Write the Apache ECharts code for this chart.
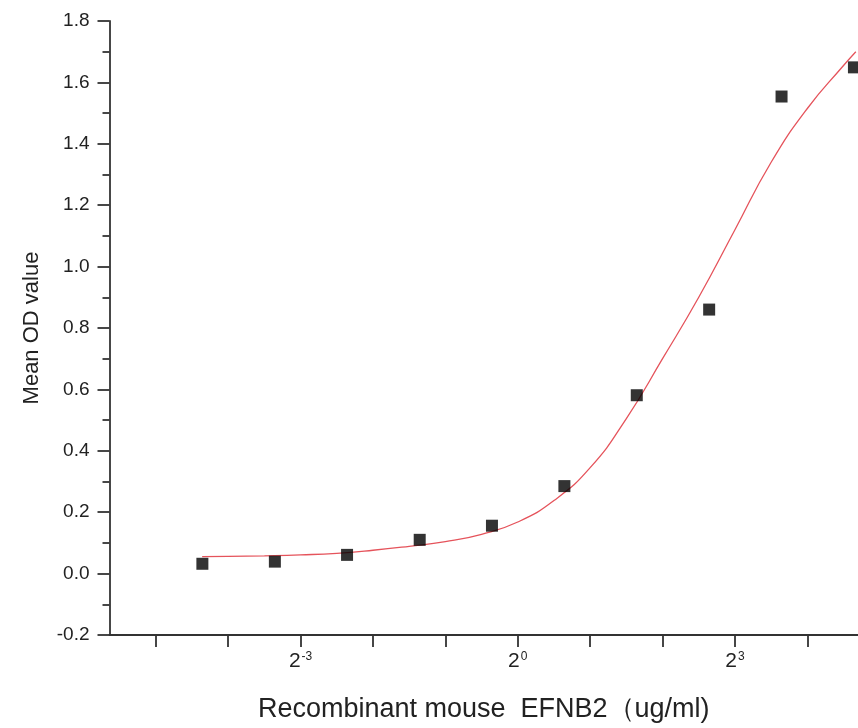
<!DOCTYPE html>
<html>
<head>
<meta charset="utf-8">
<script src="https://cdn.jsdelivr.net/npm/echarts@6/dist/echarts.min.js"></script>
<style>
html,body{margin:0;padding:0;background:#fff;}
#chart{width:858px;height:728px;}
</style>
</head>
<body>
<div id="chart"></div>
<script>
// Measured points: concentration (ug/ml) and mean OD
var concentrations = [0.0488, 0.0977, 0.195, 0.391, 0.781, 1.5625, 3.125, 6.25, 12.5, 25];
var meanOD = [0.032, 0.039, 0.061, 0.110, 0.156, 0.285, 0.581, 0.860, 1.554, 1.649];

// Fitted curve at steps of log2(concentration)
var curveLog2Conc = [-4.36, -4.0, -3.5, -3.0, -2.5, -2.0, -1.5, -1.0, -0.5, 0.0, 0.5, 1.0, 1.5, 2.0, 2.5, 3.0, 3.5, 4.0, 4.5, 4.67];
var curveOD = [0.055, 0.056, 0.058, 0.061, 0.066, 0.076, 0.089, 0.104, 0.128, 0.168, 0.238, 0.345, 0.505, 0.700, 0.900, 1.120, 1.340, 1.515, 1.655, 1.700];

// Axis ticks (powers of two)
var xTickExponents = [-5, -4, -3, -2, -1, 0, 1, 2, 3, 4];
var xLabelExponents = [-3, 0, 3];

var font = "'Liberation Sans', Arial, sans-serif";
var axisColor = '#333';

var pointData = concentrations.map(function (c, i) { return [Math.log2(c), meanOD[i]]; });
var curveData = curveLog2Conc.map(function (x, i) { return [x, curveOD[i]]; });

var chart = echarts.init(document.getElementById('chart'), null, {renderer: 'canvas'});
chart.setOption({
  animation: false,
  backgroundColor: '#fff',
  grid: {left: 109.5, right: 0, top: 21, bottom: 92, containLabel: false},
  xAxis: {
    type: 'value',
    min: -5.64,
    max: 4.70,
    name: 'Recombinant mouse  EFNB2（ug/ml)',
    nameLocation: 'middle',
    nameGap: 61,
    nameTextStyle: {fontFamily: font, fontSize: 27, color: '#222'},
    axisLine: {show: true, onZero: false, lineStyle: {color: axisColor, width: 1.8}},
    axisTick: {show: true, customValues: xTickExponents, length: 12, lineStyle: {color: axisColor, width: 1.8}},
    axisLabel: {
      customValues: xLabelExponents,
      margin: 16,
      formatter: function (v) { return '{b|2}{s|' + v + '}'; },
      rich: {
        b: {fontFamily: font, fontSize: 21, color: '#222'},
        s: {fontFamily: font, fontSize: 12, color: '#222', verticalAlign: 'top', padding: [0, 0, 0, 1]}
      }
    },
    splitLine: {show: false}
  },
  yAxis: {
    type: 'value',
    min: -0.2,
    max: 1.8,
    interval: 0.2,
    name: 'Mean OD value',
    nameLocation: 'middle',
    nameGap: 67,
    nameTextStyle: {fontFamily: font, fontSize: 22, color: '#222'},
    axisLine: {show: true, onZero: false, lineStyle: {color: axisColor, width: 1.8}},
    axisTick: {show: true, length: 12, lineStyle: {color: axisColor, width: 1.8}},
    minorTick: {show: true, splitNumber: 2, length: 7, lineStyle: {color: axisColor, width: 1.8}},
    axisLabel: {
      margin: 20,
      fontFamily: font, fontSize: 19, color: '#222',
      formatter: function (v) { return v.toFixed(1); }
    },
    splitLine: {show: false}
  },
  series: [
    {
      type: 'line',
      data: curveData,
      smooth: 0.5,
      showSymbol: false,
      lineStyle: {color: '#e5535b', width: 1.3},
      z: 1
    },
    {
      type: 'scatter',
      data: pointData,
      symbol: 'rect',
      symbolSize: 12,
      itemStyle: {color: '#000'},
      z: 2
    }
  ]
});
</script>
</body>
</html>
